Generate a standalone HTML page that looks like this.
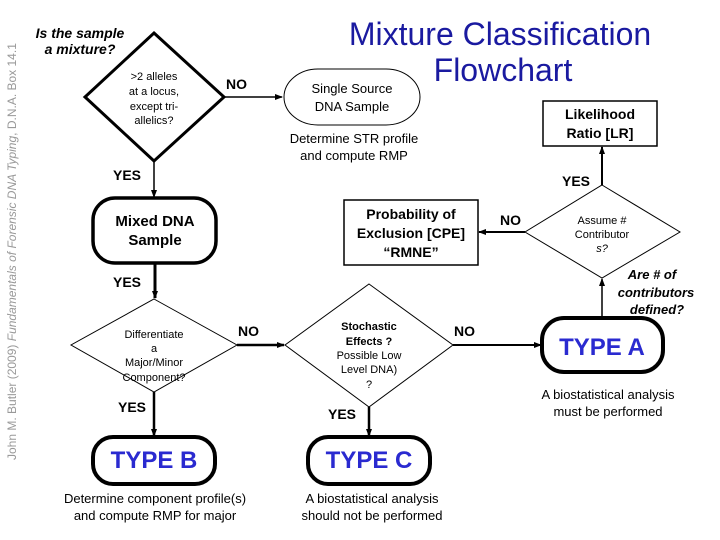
<!DOCTYPE html>
<html><head><meta charset="utf-8"><style>
html,body{margin:0;padding:0;background:#fff;}
svg{display:block;font-family:"Liberation Sans",Arial,sans-serif;}
.b{font-weight:bold;}
</style></head><body>
<svg width="720" height="540" viewBox="0 0 720 540" xmlns="http://www.w3.org/2000/svg">
<defs><marker id="a" markerWidth="8" markerHeight="8" refX="7" refY="4" orient="auto" markerUnits="userSpaceOnUse"><path d="M0,1 L8,4 L0,7z" fill="#000"/></marker></defs>
<rect width="720" height="540" fill="#fff"/>
<text transform="translate(16,460) rotate(-90)" font-size="12" fill="#999">John M. Butler (2009) <tspan font-style="italic">Fundamentals of Forensic DNA Typing</tspan>, D.N.A. Box 14.1</text>
<text x="500" y="45" font-size="32" fill="#1a1aa0" text-anchor="middle">Mixture Classification</text>
<text x="503" y="81" font-size="32" fill="#1a1aa0" text-anchor="middle">Flowchart</text>
<text x="80" y="38" font-size="14" class="b" font-style="italic" text-anchor="middle">Is the sample</text>
<text x="80" y="54" font-size="14" class="b" font-style="italic" text-anchor="middle">a mixture?</text>
<g fill="none" stroke="#000">
<path d="M154,33 L224,97 L154,161 L85,97Z" stroke-width="3"/>
<path d="M224,97 H282" stroke-width="1.5" marker-end="url(#a)"/>
<path d="M318,69 H386 A34,28 0 0 1 386,125 H318 A34,28 0 0 1 318,69Z" stroke-width="1"/>
<path d="M154,161 V197" stroke-width="1.5" marker-end="url(#a)"/>
<rect x="93" y="198" width="123" height="65" rx="22" stroke-width="3.5"/>
<path d="M155,263 V298" stroke-width="3" marker-end="url(#a)"/>
<path d="M154,299 L237,345 L154,392 L71,345Z" stroke-width="1"/>
<path d="M237,345 H284" stroke-width="2.5" marker-end="url(#a)"/>
<path d="M369,284 L453,345 L369,407 L285,345Z" stroke-width="1"/>
<path d="M453,345 H541" stroke-width="2" marker-end="url(#a)"/>
<path d="M154,392 V436" stroke-width="2.5" marker-end="url(#a)"/>
<path d="M369,407 V436" stroke-width="2.5" marker-end="url(#a)"/>
<rect x="93" y="437" width="122" height="47" rx="20" stroke-width="4"/>
<rect x="308" y="437" width="122" height="47" rx="20" stroke-width="4"/>
<rect x="542" y="318" width="121" height="54" rx="22" stroke-width="4"/>
<rect x="344" y="200" width="134" height="65" stroke-width="1.5"/>
<rect x="543" y="101" width="114" height="45" stroke-width="1.5"/>
<path d="M602,185 L680,232 L602,278 L525,232Z" stroke-width="1"/>
<path d="M602,318 V279" stroke-width="1.5" marker-end="url(#a)"/>
<path d="M602,185 V147" stroke-width="2" marker-end="url(#a)"/>
<path d="M525,232 H479" stroke-width="2" marker-end="url(#a)"/>
</g>
<g font-size="11" text-anchor="middle">
<text x="154" y="80">&gt;2 alleles</text><text x="154" y="95">at a locus,</text><text x="154" y="110">except tri-</text><text x="154" y="124">allelics?</text>
<text x="352" y="93" font-size="13">Single Source</text><text x="352" y="111" font-size="13">DNA Sample</text>
<text x="354" y="143" font-size="13">Determine STR profile</text><text x="354" y="160" font-size="13">and compute RMP</text>
<text x="154" y="338">Differentiate</text><text x="154" y="352">a</text><text x="154" y="366">Major/Minor</text><text x="154" y="381">Component?</text>
<text x="369" y="330" class="b">Stochastic</text><text x="369" y="345" class="b">Effects ?</text><text x="369" y="359">Possible Low</text><text x="369" y="373">Level DNA)</text><text x="369" y="388">?</text>
<text x="602" y="224">Assume #</text><text x="602" y="238">Contributor</text><text x="602" y="252" font-style="italic">s?</text>
<text x="155" y="226" font-size="15" class="b">Mixed DNA</text><text x="155" y="245" font-size="15" class="b">Sample</text>
<text x="411" y="219" font-size="14" class="b">Probability of</text><text x="411" y="238" font-size="14" class="b">Exclusion [CPE]</text><text x="411" y="257" font-size="14" class="b">“RMNE”</text>
<text x="600" y="119" font-size="14" class="b">Likelihood</text><text x="600" y="138" font-size="14" class="b">Ratio [LR]</text>
<text x="154" y="468" font-size="24" class="b" fill="#2a2ad0">TYPE B</text>
<text x="369" y="468" font-size="24" class="b" fill="#2a2ad0">TYPE C</text>
<text x="602" y="355" font-size="24" class="b" fill="#2a2ad0">TYPE A</text>
<text x="155" y="503" font-size="13">Determine component profile(s)</text><text x="155" y="520" font-size="13">and compute RMP for major</text>
<text x="372" y="503" font-size="13">A biostatistical analysis</text><text x="372" y="520" font-size="13">should not be performed</text>
<text x="608" y="399" font-size="13">A biostatistical analysis</text><text x="608" y="416" font-size="13">must be performed</text>
<text x="652" y="279" font-size="13" class="b" font-style="italic">Are # of</text><text x="656" y="297" font-size="13" class="b" font-style="italic">contributors</text><text x="657" y="314" font-size="13" class="b" font-style="italic">defined?</text>
</g>
<g font-size="14" class="b">
<text x="226" y="89">NO</text><text x="113" y="180">YES</text><text x="113" y="287">YES</text>
<text x="238" y="336">NO</text><text x="118" y="412">YES</text><text x="328" y="419">YES</text>
<text x="454" y="336">NO</text><text x="500" y="225">NO</text><text x="562" y="186">YES</text>
</g>
</svg>
</body></html>
